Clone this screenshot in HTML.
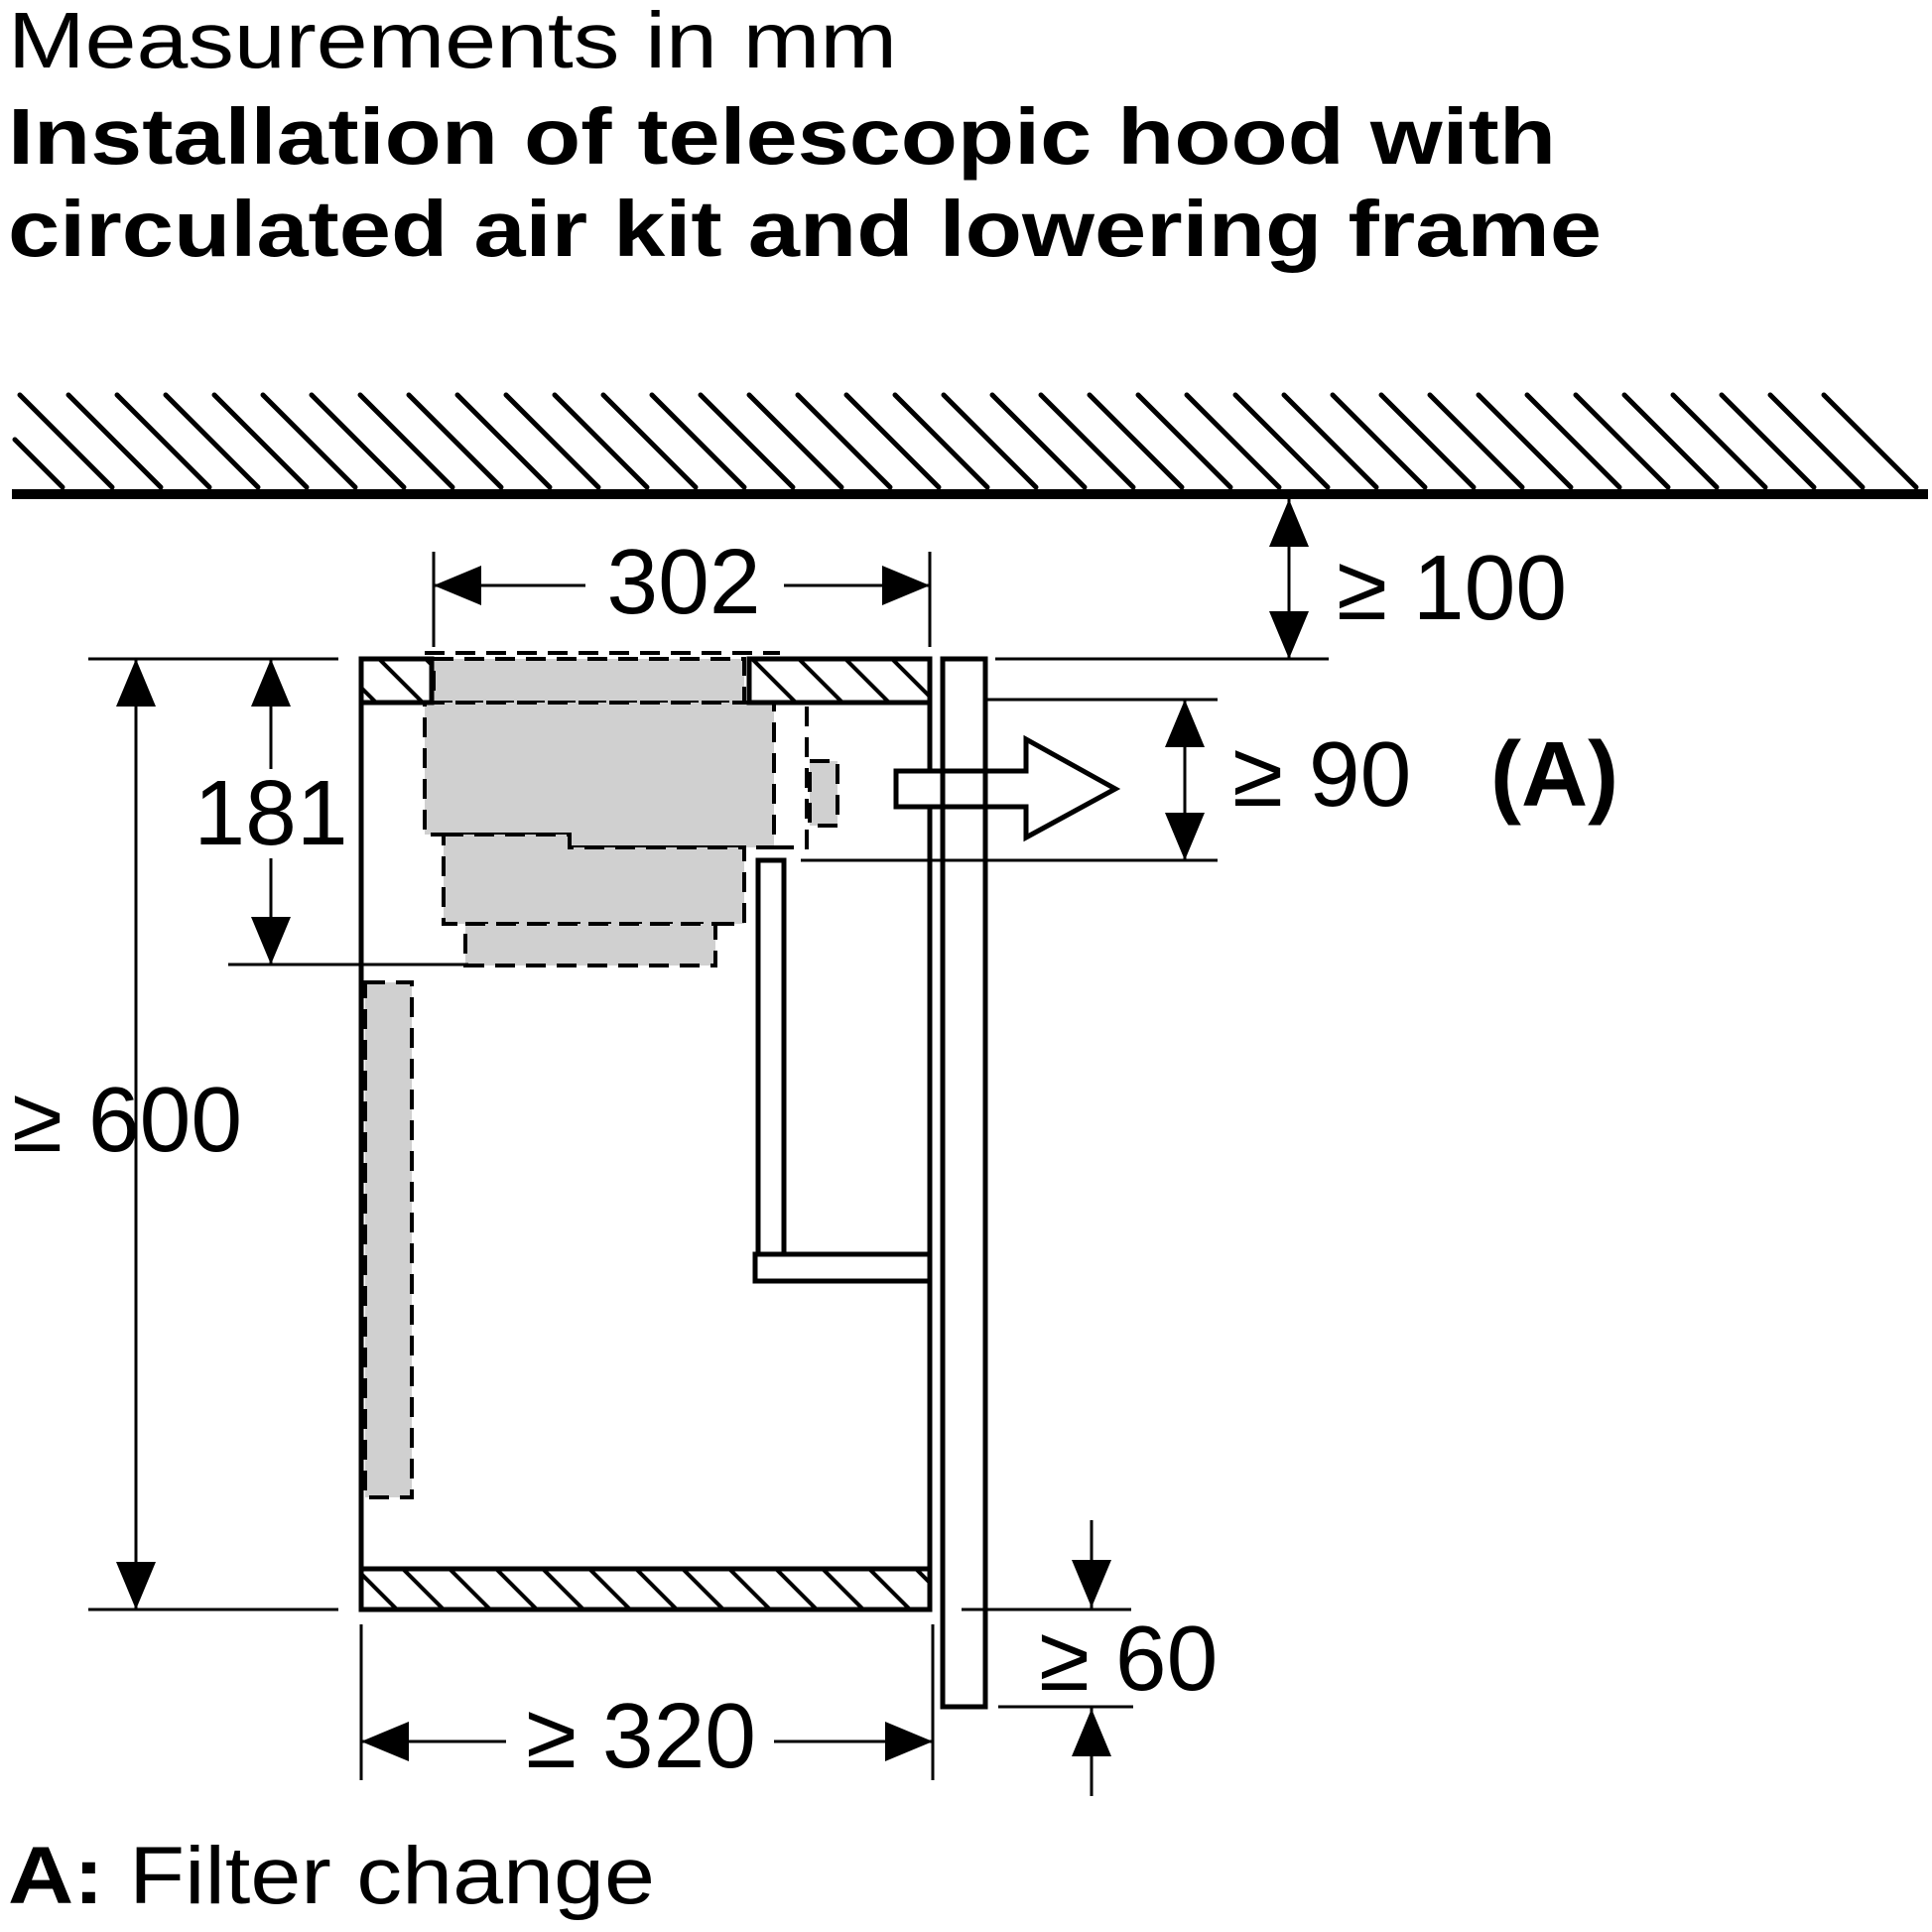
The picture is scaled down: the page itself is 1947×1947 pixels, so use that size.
<!DOCTYPE html>
<html><head><meta charset="utf-8"><style>
html,body{margin:0;padding:0;background:#fff}
svg{display:block}
text{font-family:"Liberation Sans",Arial,sans-serif;fill:#000}
</style></head><body>
<svg width="1947" height="1947" viewBox="0 0 1947 1947" xmlns="http://www.w3.org/2000/svg">
<defs>
<pattern id="h" patternUnits="userSpaceOnUse" width="47" height="47">
<path d="M-10,-10 L57,57 M-57,-10 L10,57 M37,-10 L104,57" stroke="#000" stroke-width="4"/>
</pattern>
</defs>
<text x="8" y="68" font-size="80" textLength="896" lengthAdjust="spacingAndGlyphs">Measurements in mm</text>
<text x="8" y="165" font-size="80" font-weight="bold" textLength="1560" lengthAdjust="spacingAndGlyphs">Installation of telescopic hood with</text>
<text x="8" y="258" font-size="80" font-weight="bold" textLength="1606" lengthAdjust="spacingAndGlyphs">circulated air kit and lowering frame</text>

<g stroke="#000" stroke-width="5" stroke-linecap="round">
<line x1="15" y1="443" x2="63" y2="491"/>
<path d="M20,398l93,93 M69,398l93,93 M118,398l93,93 M167,398l93,93 M216,398l93,93 M265,398l93,93 M314,398l93,93 M363,398l93,93 M412,398l93,93 M461,398l93,93 M510,398l93,93 M559,398l93,93 M608,398l93,93 M657,398l93,93 M706,398l93,93 M755,398l93,93 M804,398l93,93 M853,398l93,93 M902,398l93,93 M951,398l93,93 M1000,398l93,93 M1049,398l93,93 M1098,398l93,93 M1147,398l93,93 M1196,398l93,93 M1245,398l93,93 M1294,398l93,93 M1343,398l93,93 M1392,398l93,93 M1441,398l93,93 M1490,398l93,93 M1539,398l93,93 M1588,398l93,93 M1637,398l93,93 M1686,398l93,93 M1735,398l93,93 M1784,398l93,93 M1838,398l93,93"/>
</g>
<rect x="12" y="493" width="1931" height="10" fill="#000"/>

<g fill="#d0d0d0" stroke="#000" stroke-width="4" stroke-dasharray="20,11">
<rect x="437" y="664" width="313" height="44"/>
<path d="M428,708 H780 V854 H574 V841 H428 Z"/>
<path d="M447,841 H574 V854 H750 V931 H447 Z"/>
<rect x="469" y="931" width="252" height="42"/>
<rect x="368" y="990" width="47" height="519"/>
<rect x="816" y="767" width="28" height="65"/>
<path d="M813,712 V854 H780" fill="none"/>
<line x1="428" y1="658" x2="786" y2="658"/>
</g>

<g stroke="#000" stroke-width="5" fill="none">
<line x1="364" y1="664" x2="364" y2="1622"/>
<line x1="937" y1="664" x2="937" y2="1622"/>
<rect x="364" y="664" width="71" height="44" fill="url(#h)"/>
<rect x="755" y="664" width="182" height="44" fill="url(#h)"/>
<rect x="364" y="1581" width="573" height="41" fill="url(#h)"/>
<rect x="764" y="867" width="26" height="397"/>
<rect x="761" y="1264" width="176" height="27" fill="#fff"/>
<rect x="950" y="664" width="43" height="1056" fill="#fff"/>
</g>

<path d="M903,777 H1034 V745 L1124,795 L1034,844 V813 H903 Z" fill="#fff" stroke="#000" stroke-width="5"/>
<g stroke="#000" stroke-width="5"><line x1="950" y1="777" x2="950" y2="813"/><line x1="993" y1="777" x2="993" y2="813"/></g>

<g stroke="#000" stroke-width="3" fill="none">
<line x1="437" y1="556" x2="437" y2="652"/>
<line x1="937" y1="556" x2="937" y2="652"/>
<line x1="437" y1="590" x2="590" y2="590"/>
<line x1="790" y1="590" x2="937" y2="590"/>
<line x1="1299" y1="503" x2="1299" y2="664"/>
<line x1="1003" y1="664" x2="1339" y2="664"/>
<line x1="1194" y1="705" x2="1194" y2="867"/>
<line x1="993" y1="705" x2="1227" y2="705"/>
<line x1="807" y1="867" x2="1227" y2="867"/>
<line x1="273" y1="664" x2="273" y2="775"/>
<line x1="273" y1="865" x2="273" y2="972"/>
<line x1="230" y1="972" x2="472" y2="972"/>
<line x1="137" y1="664" x2="137" y2="1622"/>
<line x1="89" y1="664" x2="341" y2="664"/>
<line x1="89" y1="1622" x2="341" y2="1622"/>
<line x1="364" y1="1637" x2="364" y2="1794"/>
<line x1="940" y1="1637" x2="940" y2="1794"/>
<line x1="364" y1="1755" x2="510" y2="1755"/>
<line x1="780" y1="1755" x2="940" y2="1755"/>
<line x1="1100" y1="1532" x2="1100" y2="1622"/>
<line x1="1100" y1="1720" x2="1100" y2="1810"/>
<line x1="969" y1="1622" x2="1140" y2="1622"/>
<line x1="1006" y1="1720" x2="1142" y2="1720"/>
</g>
<g fill="#000">
<path d="M437,590 l48,-20 v40 Z"/>
<path d="M937,590 l-48,-20 v40 Z"/>
<path d="M1299,503 l-20,48 h40 Z"/>
<path d="M1299,664 l-20,-48 h40 Z"/>
<path d="M1194,705 l-20,48 h40 Z"/>
<path d="M1194,867 l-20,-48 h40 Z"/>
<path d="M273,664 l-20,48 h40 Z"/>
<path d="M273,972 l-20,-48 h40 Z"/>
<path d="M137,664 l-20,48 h40 Z"/>
<path d="M137,1622 l-20,-48 h40 Z"/>
<path d="M364,1755 l48,-20 v40 Z"/>
<path d="M940,1755 l-48,-20 v40 Z"/>
<path d="M1100,1620 l-20,-48 h40 Z"/>
<path d="M1100,1722 l-20,48 h40 Z"/>
</g>

<g font-size="93">
<text x="689" y="618" text-anchor="middle">302</text>
<text x="1347" y="624">≥ 100</text>
<text x="1242" y="812">≥ 90</text>
<text x="1502" y="812" font-weight="bold">(A)</text>
<text x="273" y="851" text-anchor="middle">181</text>
<text x="12" y="1160">≥ 600</text>
<text x="646" y="1781" text-anchor="middle">≥ 320</text>
<text x="1047" y="1703">≥ 60</text>
</g>
<text x="8" y="1918" font-size="82" textLength="652" lengthAdjust="spacingAndGlyphs"><tspan font-weight="bold">A:</tspan> Filter change</text>
</svg>
</body></html>
